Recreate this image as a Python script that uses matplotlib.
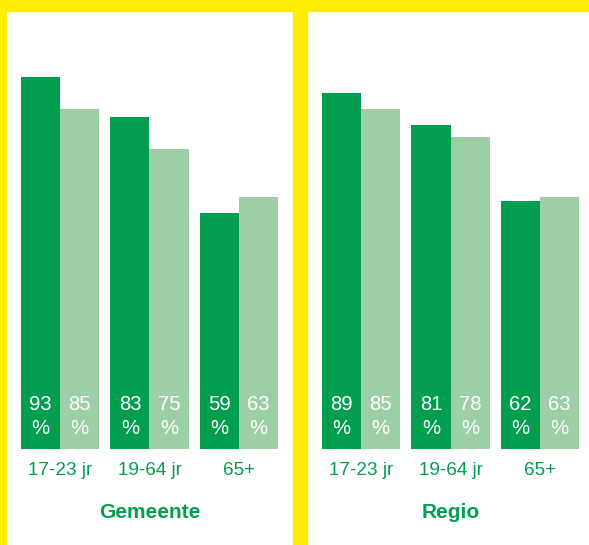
import matplotlib
matplotlib.use("Agg")
import matplotlib.pyplot as plt
from matplotlib.patches import Rectangle

plt.rcParams['font.family'] = ['Liberation Sans', 'DejaVu Sans']

groups = ['17-23 jr', '19-64 jr', '65+']
panels = ['Gemeente', 'Regio']
dark_vals = {'Gemeente': [93, 83, 59], 'Regio': [89, 81, 62]}
light_vals = {'Gemeente': [85, 75, 63], 'Regio': [85, 78, 63]}

DARK = '#009E4E'
LIGHT = '#9DCFA6'
YELLOW = '#FFEC00'

W, H = 589, 545
fig = plt.figure(figsize=(W / 100, H / 100), dpi=100)

def px_axes(x0, y_top, w, h):
    # pixel box (from top-left) -> figure fraction
    return fig.add_axes([x0 / W, (H - y_top - h) / H, w / W, h / H])

bw = 0.436
for k, name in enumerate(panels):
    x0 = 6 if k == 0 else 307
    ax = px_axes(x0, 49, 287, 400)
    ax.set_xlim(-0.603, 2.603)
    ax.set_ylim(0, 100)
    ax.axis('off')
    xs = range(len(groups))
    d = dark_vals[name]
    l = light_vals[name]
    ax.bar([x - bw / 2 for x in xs], d, width=bw, color=DARK, linewidth=0)
    ax.bar([x + bw / 2 for x in xs], l, width=bw, color=LIGHT, linewidth=0)
    for i in xs:
        for xx, v in ((i - bw / 2, d[i]), (i + bw / 2, l[i])):
            ax.text(xx, 11, str(v), ha='center', va='center', color='white', fontsize=14.6)
            ax.text(xx, 5.2, '%', ha='center', va='center', color='white', fontsize=14.6)
        ax.text(i, -5.4, groups[i], ha='center', va='center', color=DARK,
                fontsize=13.6, clip_on=False)
    ax.text(1, -15.8, name, ha='center', va='center', color=DARK,
            fontsize=15, fontweight='bold', clip_on=False)

# yellow frame
for (x, y, w, h) in [(0, 0, W, 11), (0, 0, 6, H), (293, 0, 14, H)]:
    fig.patches.append(Rectangle((x / W, (H - y - h) / H), w / W, h / H,
                                 transform=fig.transFigure, color=YELLOW, zorder=5))

fig.savefig('out.png', dpi=100, facecolor='white')
